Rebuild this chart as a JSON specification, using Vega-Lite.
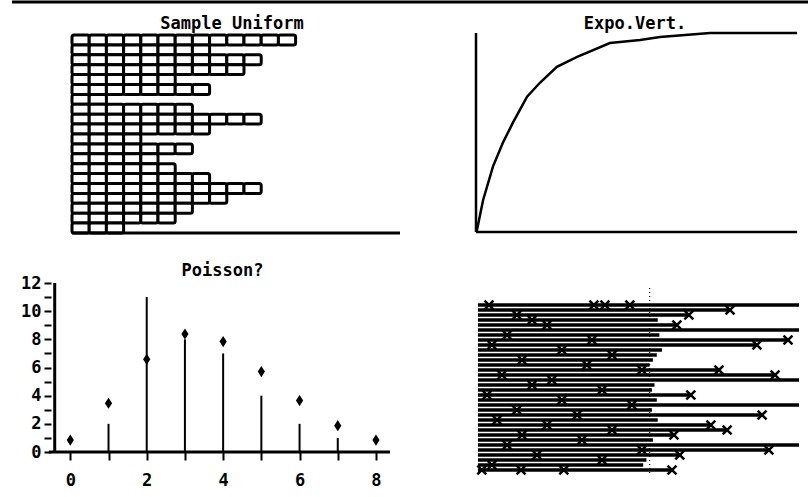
{
"$schema": "https://vega.github.io/schema/vega-lite/v6.json",
"padding": 0,
"background": "white",
"bounds": "flush",
"columns": 2,
"spacing": {"row": 48, "column": 76},
"config": {
  "view": {"stroke": null},
  "font": "DejaVu Sans Mono",
  "title": {"font": "DejaVu Sans Mono", "fontSize": 17, "fontWeight": "bold", "color": "black", "frame": "group"},
  "axis": {"grid": false}
},
"concat": [
{
  "width": 400, "height": 235,
  "title": {"text": "Sample Uniform", "offset": -33, "dx": 32},
  "layer": [
    {
      "data": {"values": [
        {"r0":0,"r1":1,"c0":0,"c1":1},{"r0":0,"r1":1,"c0":1,"c1":2},{"r0":0,"r1":1,"c0":2,"c1":3},{"r0":0,"r1":1,"c0":3,"c1":4},{"r0":0,"r1":1,"c0":4,"c1":5},{"r0":0,"r1":1,"c0":5,"c1":6},{"r0":0,"r1":1,"c0":6,"c1":7},{"r0":0,"r1":1,"c0":7,"c1":8},{"r0":0,"r1":1,"c0":8,"c1":9},{"r0":0,"r1":1,"c0":9,"c1":10},{"r0":0,"r1":1,"c0":10,"c1":11},{"r0":0,"r1":1,"c0":11,"c1":12},{"r0":0,"r1":1,"c0":12,"c1":13},
        {"r0":1,"r1":2,"c0":0,"c1":1},{"r0":1,"r1":2,"c0":1,"c1":2},{"r0":1,"r1":2,"c0":2,"c1":3},{"r0":1,"r1":2,"c0":3,"c1":4},{"r0":1,"r1":2,"c0":4,"c1":5},{"r0":1,"r1":2,"c0":5,"c1":6},{"r0":1,"r1":2,"c0":6,"c1":7},{"r0":1,"r1":2,"c0":7,"c1":8},
        {"r0":2,"r1":3,"c0":0,"c1":1},{"r0":2,"r1":3,"c0":1,"c1":2},{"r0":2,"r1":3,"c0":2,"c1":3},{"r0":2,"r1":3,"c0":3,"c1":4},{"r0":2,"r1":3,"c0":4,"c1":5},{"r0":2,"r1":3,"c0":5,"c1":6},{"r0":2,"r1":3,"c0":6,"c1":7},{"r0":2,"r1":3,"c0":7,"c1":8},{"r0":2,"r1":3,"c0":8,"c1":9},{"r0":2,"r1":3,"c0":9,"c1":10},{"r0":2,"r1":3,"c0":10,"c1":11},
        {"r0":3,"r1":4,"c0":0,"c1":1},{"r0":3,"r1":4,"c0":1,"c1":2},{"r0":3,"r1":4,"c0":2,"c1":3},{"r0":3,"r1":4,"c0":3,"c1":4},{"r0":3,"r1":4,"c0":4,"c1":5},{"r0":3,"r1":4,"c0":5,"c1":6},{"r0":3,"r1":4,"c0":6,"c1":7},{"r0":3,"r1":4,"c0":7,"c1":8},{"r0":3,"r1":4,"c0":8,"c1":9},{"r0":3,"r1":4,"c0":9,"c1":10},
        {"r0":4,"r1":5,"c0":0,"c1":1},{"r0":4,"r1":5,"c0":1,"c1":2},{"r0":4,"r1":5,"c0":2,"c1":3},{"r0":4,"r1":5,"c0":3,"c1":4},{"r0":4,"r1":5,"c0":4,"c1":5},{"r0":4,"r1":5,"c0":5,"c1":6},
        {"r0":5,"r1":6,"c0":0,"c1":1},{"r0":5,"r1":6,"c0":1,"c1":2},{"r0":5,"r1":6,"c0":2,"c1":3},{"r0":5,"r1":6,"c0":3,"c1":4},{"r0":5,"r1":6,"c0":4,"c1":5},{"r0":5,"r1":6,"c0":5,"c1":6},{"r0":5,"r1":6,"c0":6,"c1":7},{"r0":5,"r1":6,"c0":7,"c1":8},
        {"r0":6,"r1":7,"c0":0,"c1":1},{"r0":6,"r1":7,"c0":1,"c1":2},
        {"r0":7,"r1":8,"c0":0,"c1":1},{"r0":7,"r1":8,"c0":1,"c1":2},{"r0":7,"r1":8,"c0":2,"c1":3},{"r0":7,"r1":8,"c0":3,"c1":4},{"r0":7,"r1":8,"c0":4,"c1":5},{"r0":7,"r1":8,"c0":5,"c1":6},{"r0":7,"r1":8,"c0":6,"c1":7},
        {"r0":8,"r1":9,"c0":0,"c1":1},{"r0":8,"r1":9,"c0":1,"c1":2},{"r0":8,"r1":9,"c0":2,"c1":3},{"r0":8,"r1":9,"c0":3,"c1":4},{"r0":8,"r1":9,"c0":4,"c1":5},{"r0":8,"r1":9,"c0":5,"c1":6},{"r0":8,"r1":9,"c0":6,"c1":7},{"r0":8,"r1":9,"c0":7,"c1":8},{"r0":8,"r1":9,"c0":8,"c1":9},{"r0":8,"r1":9,"c0":9,"c1":10},{"r0":8,"r1":9,"c0":10,"c1":11},
        {"r0":9,"r1":10,"c0":0,"c1":1},{"r0":9,"r1":10,"c0":1,"c1":2},{"r0":9,"r1":10,"c0":2,"c1":3},{"r0":9,"r1":10,"c0":3,"c1":4},{"r0":9,"r1":10,"c0":4,"c1":5},{"r0":9,"r1":10,"c0":5,"c1":6},{"r0":9,"r1":10,"c0":6,"c1":7},{"r0":9,"r1":10,"c0":7,"c1":8},
        {"r0":10,"r1":11,"c0":0,"c1":1},{"r0":10,"r1":11,"c0":1,"c1":2},{"r0":10,"r1":11,"c0":2,"c1":3},{"r0":10,"r1":11,"c0":3,"c1":4},
        {"r0":11,"r1":12,"c0":0,"c1":1},{"r0":11,"r1":12,"c0":1,"c1":2},{"r0":11,"r1":12,"c0":2,"c1":3},{"r0":11,"r1":12,"c0":3,"c1":4},{"r0":11,"r1":12,"c0":4,"c1":5},{"r0":11,"r1":12,"c0":5,"c1":6},{"r0":11,"r1":12,"c0":6,"c1":7},
        {"r0":12,"r1":13,"c0":0,"c1":1},{"r0":12,"r1":13,"c0":1,"c1":2},{"r0":12,"r1":13,"c0":2,"c1":3},{"r0":12,"r1":13,"c0":3,"c1":4},{"r0":12,"r1":13,"c0":4,"c1":5},
        {"r0":13,"r1":14,"c0":0,"c1":1},{"r0":13,"r1":14,"c0":1,"c1":2},{"r0":13,"r1":14,"c0":2,"c1":3},{"r0":13,"r1":14,"c0":3,"c1":4},{"r0":13,"r1":14,"c0":4,"c1":5},{"r0":13,"r1":14,"c0":5,"c1":6},
        {"r0":14,"r1":15,"c0":0,"c1":1},{"r0":14,"r1":15,"c0":1,"c1":2},{"r0":14,"r1":15,"c0":2,"c1":3},{"r0":14,"r1":15,"c0":3,"c1":4},{"r0":14,"r1":15,"c0":4,"c1":5},{"r0":14,"r1":15,"c0":5,"c1":6},{"r0":14,"r1":15,"c0":6,"c1":7},{"r0":14,"r1":15,"c0":7,"c1":8},
        {"r0":15,"r1":16,"c0":0,"c1":1},{"r0":15,"r1":16,"c0":1,"c1":2},{"r0":15,"r1":16,"c0":2,"c1":3},{"r0":15,"r1":16,"c0":3,"c1":4},{"r0":15,"r1":16,"c0":4,"c1":5},{"r0":15,"r1":16,"c0":5,"c1":6},{"r0":15,"r1":16,"c0":6,"c1":7},{"r0":15,"r1":16,"c0":7,"c1":8},{"r0":15,"r1":16,"c0":8,"c1":9},{"r0":15,"r1":16,"c0":9,"c1":10},{"r0":15,"r1":16,"c0":10,"c1":11},
        {"r0":16,"r1":17,"c0":0,"c1":1},{"r0":16,"r1":17,"c0":1,"c1":2},{"r0":16,"r1":17,"c0":2,"c1":3},{"r0":16,"r1":17,"c0":3,"c1":4},{"r0":16,"r1":17,"c0":4,"c1":5},{"r0":16,"r1":17,"c0":5,"c1":6},{"r0":16,"r1":17,"c0":6,"c1":7},{"r0":16,"r1":17,"c0":7,"c1":8},{"r0":16,"r1":17,"c0":8,"c1":9},
        {"r0":17,"r1":18,"c0":0,"c1":1},{"r0":17,"r1":18,"c0":1,"c1":2},{"r0":17,"r1":18,"c0":2,"c1":3},{"r0":17,"r1":18,"c0":3,"c1":4},{"r0":17,"r1":18,"c0":4,"c1":5},{"r0":17,"r1":18,"c0":5,"c1":6},{"r0":17,"r1":18,"c0":6,"c1":7},
        {"r0":18,"r1":19,"c0":0,"c1":1},{"r0":18,"r1":19,"c0":1,"c1":2},{"r0":18,"r1":19,"c0":2,"c1":3},{"r0":18,"r1":19,"c0":3,"c1":4},{"r0":18,"r1":19,"c0":4,"c1":5},{"r0":18,"r1":19,"c0":5,"c1":6},
        {"r0":19,"r1":20,"c0":0,"c1":1},{"r0":19,"r1":20,"c0":1,"c1":2},{"r0":19,"r1":20,"c0":2,"c1":3}
      ]},
      "mark": {"type": "rect", "fill": "white", "stroke": "black", "strokeWidth": 3, "cornerRadius": 2},
      "encoding": {
        "x": {"field": "c0", "type": "quantitative", "scale": {"domain": [-4.186, 19.07], "nice": false, "zero": false}, "axis": null},
        "x2": {"field": "c1"},
        "y": {"field": "r0", "type": "quantitative", "scale": {"domain": [-3.535, 20.2], "reverse": true, "nice": false, "zero": false}, "axis": null},
        "y2": {"field": "r1"}
      }
    },
    {
      "data": {"values": [{"x0": 0, "x1": 19.07, "y": 20}, {"x0": -3.49, "x1": 42.8, "y": -3.33}]},
      "mark": {"type": "rule", "color": "black", "strokeWidth": 3},
      "encoding": {
        "x": {"field": "x0", "type": "quantitative"},
        "x2": {"field": "x1"},
        "y": {"field": "y", "type": "quantitative"}
      }
    }
  ]
},
{
  "width": 324, "height": 235,
  "title": {"text": "Expo.Vert.", "offset": -33, "dx": -3},
  "layer": [
    {
      "data": {"values": [
        {"t":0,"p":0},{"t":0.03,"p":0.01},{"t":0.22,"p":0.16},{"t":0.53,"p":0.33},{"t":0.84,"p":0.45},{"t":1.15,"p":0.55},{"t":1.59,"p":0.68},{"t":1.99,"p":0.75},{"t":2.52,"p":0.83},{"t":3.15,"p":0.88},{"t":4.17,"p":0.95},{"t":5.11,"p":0.965},{"t":5.73,"p":0.98},{"t":7.29,"p":1.0},{"t":10,"p":1.0}
      ]},
      "mark": {"type": "line", "color": "black", "strokeWidth": 2.5},
      "encoding": {
        "x": {"field": "t", "type": "quantitative", "scale": {"domain": [0, 10.09], "nice": false, "zero": false}, "axis": null},
        "y": {"field": "p", "type": "quantitative", "scale": {"domain": [-0.015, 1.166], "nice": false, "zero": false}, "axis": null}
      }
    },
    {
      "data": {"values": [{"x0": 0, "x1": 10, "y0": 0, "y1": 0}, {"x0": 0, "x1": 0, "y0": 0, "y1": 1}]},
      "mark": {"type": "rule", "color": "black", "strokeWidth": 2.5},
      "encoding": {
        "x": {"field": "x0", "type": "quantitative"},
        "x2": {"field": "x1"},
        "y": {"field": "y0", "type": "quantitative"},
        "y2": {"field": "y1"}
      }
    }
  ]
},
{
  "width": 395, "height": 169,
  "title": {"text": "Poisson?", "offset": -6, "dx": 25},
  "data": {"values": [
    {"k":0,"n":0,"e":0.85},{"k":1,"n":2,"e":3.46},{"k":2,"n":11,"e":6.58},{"k":3,"n":8,"e":8.38},{"k":4,"n":7,"e":7.84},{"k":5,"n":4,"e":5.71},{"k":6,"n":2,"e":3.65},{"k":7,"n":1,"e":1.87},{"k":8,"n":0,"e":0.85}
  ]},
  "layer": [
    {
      "mark": {"type": "bar", "color": "black", "size": 2},
      "encoding": {
        "x": {"field": "k", "type": "quantitative", "title": null,
          "scale": {"domain": [-1.709, 8.367], "nice": false, "zero": false},
          "axis": {"values": [0,1,2,3,4,5,6,7,8], "tickCount": 20, "format": "d", "labelExpr": "datum.value % 2 === 0 ? datum.label : ''", "domain": false, "grid": false, "tickSize": 8, "tickWidth": 2, "tickColor": "black", "labelFont": "DejaVu Sans Mono", "labelFontSize": 17, "labelFontWeight": "bold", "labelColor": "black", "labelPadding": 12, "labelFlush": false, "labelOverlap": false}},
        "y": {"field": "n", "type": "quantitative", "title": null,
          "scale": {"domain": [0, 12], "nice": false},
          "axis": {"values": [0,1,2,3,4,5,6,7,8,9,10,11,12], "tickCount": 20, "format": "d", "labelExpr": "datum.value % 2 === 0 ? datum.label : ''", "offset": -51, "domain": false, "grid": false, "tickSize": 7, "tickWidth": 2, "tickColor": "black", "labelFont": "DejaVu Sans Mono", "labelFontSize": 17, "labelFontWeight": "bold", "labelColor": "black", "labelPadding": 3, "labelFlush": false, "labelOverlap": false}}
      }
    },
    {
      "mark": {"type": "point", "shape": "M0,-1.4L0.9,0L0,1.4L-0.9,0Z", "filled": true, "color": "black", "size": 64, "opacity": 1},
      "encoding": {
        "x": {"field": "k", "type": "quantitative", "title": null},
        "y": {"field": "e", "type": "quantitative", "title": null}
      }
    },
    {
      "data": {"values": [{"x0": -0.561, "x1": 8.367, "y0": 0, "y1": 0}, {"x0": -0.408, "x1": -0.408, "y0": 0, "y1": 12}]},
      "mark": {"type": "rule", "color": "black", "strokeWidth": 3},
      "encoding": {
        "x": {"field": "x0", "type": "quantitative", "title": null},
        "x2": {"field": "x1"},
        "y": {"field": "y0", "type": "quantitative", "title": null},
        "y2": {"field": "y1"}
      }
    }
  ]
},
{
  "width": 324, "height": 192,
  "layer": [
    {
      "data": {"values": [
        {"row":1,"start":0,"end":99.1},{"row":2,"start":0,"end":77.8},{"row":3,"start":0,"end":65.1},{"row":4,"start":0,"end":55.5},{"row":5,"start":0,"end":61.4},{"row":6,"start":0,"end":99.1},{"row":7,"start":0,"end":56.0},{"row":8,"start":0,"end":95.7},{"row":9,"start":0,"end":86.1},{"row":10,"start":0,"end":56.8},{"row":11,"start":0,"end":55.2},{"row":12,"start":0,"end":54.0},{"row":13,"start":0,"end":53.0},{"row":14,"start":0,"end":74.4},{"row":15,"start":0,"end":91.7},{"row":16,"start":0,"end":99.1},{"row":17,"start":0,"end":54.5},{"row":18,"start":0,"end":53.7},{"row":19,"start":0,"end":65.7},{"row":20,"start":0,"end":55.2},{"row":21,"start":0,"end":99.1},{"row":22,"start":0,"end":53.7},{"row":23,"start":0,"end":87.7},{"row":24,"start":0,"end":55.5},{"row":25,"start":0,"end":71.9},{"row":26,"start":0,"end":76.9},{"row":27,"start":0,"end":60.5},{"row":28,"start":0,"end":54.0},{"row":29,"start":0,"end":99.1},{"row":30,"start":0,"end":89.8},{"row":31,"start":0,"end":62.3},{"row":32,"start":0,"end":52.0},{"row":33,"start":0,"end":51.0},{"row":34,"start":0,"end":59.9}
      ]},
      "mark": {"type": "rule", "color": "black", "strokeWidth": 3.4},
      "encoding": {
        "x": {"field": "start", "type": "quantitative", "scale": {"domain": [-0.6, 99.4], "nice": false, "zero": false}, "axis": null},
        "x2": {"field": "end"},
        "y": {"field": "row", "type": "quantitative", "scale": {"domain": [-3.4, 35], "reverse": true, "nice": false, "zero": false}, "axis": null}
      }
    },
    {
      "data": {"values": [{"t": 53.0, "y0": -2.4, "y1": 35}]},
      "mark": {"type": "rule", "color": "black", "strokeWidth": 1.2, "strokeDash": [1, 3]},
      "encoding": {
        "x": {"field": "t", "type": "quantitative"},
        "y": {"field": "y0", "type": "quantitative"},
        "y2": {"field": "y1"}
      }
    },
    {
      "data": {"values": [
        {"row":2,"t":77.8},{"row":3,"t":65.1},{"row":5,"t":61.4},{"row":8,"t":95.7},{"row":9,"t":86.1},{"row":14,"t":74.4},{"row":15,"t":91.7},{"row":19,"t":65.7},{"row":23,"t":87.7},{"row":25,"t":71.9},{"row":26,"t":76.9},{"row":27,"t":60.5},{"row":30,"t":89.8},{"row":31,"t":62.3},{"row":34,"t":59.9},
        {"row":1,"t":3.4},{"row":1,"t":35.8},{"row":1,"t":39.2},{"row":1,"t":46.9},{"row":34,"t":1.2},{"row":34,"t":13.3},{"row":34,"t":26.5},
        {"row":3,"t":12.0},{"row":4,"t":16.7},{"row":5,"t":21.3},{"row":7,"t":9.0},{"row":8,"t":35.2},{"row":9,"t":4.3},{"row":10,"t":25.9},{"row":11,"t":41.4},{"row":12,"t":13.6},{"row":13,"t":33.6},{"row":14,"t":50.6},{"row":15,"t":7.4},{"row":16,"t":22.8},{"row":17,"t":16.7},{"row":18,"t":38.3},{"row":19,"t":2.8},{"row":20,"t":25.9},{"row":21,"t":47.5},{"row":22,"t":12.0},{"row":23,"t":30.6},{"row":24,"t":5.9},{"row":25,"t":21.3},{"row":26,"t":41.4},{"row":27,"t":13.6},{"row":28,"t":32.1},{"row":29,"t":9.0},{"row":30,"t":50.6},{"row":31,"t":18.2},{"row":32,"t":38.3},{"row":33,"t":4.3}
      ]},
      "mark": {"type": "point", "shape": "M-1,-1L1,1M1,-1L-1,1", "filled": false, "color": "black", "strokeWidth": 2.5, "size": 80, "opacity": 1},
      "encoding": {
        "x": {"field": "t", "type": "quantitative"},
        "y": {"field": "row", "type": "quantitative"}
      }
    }
  ]
}
]
}
